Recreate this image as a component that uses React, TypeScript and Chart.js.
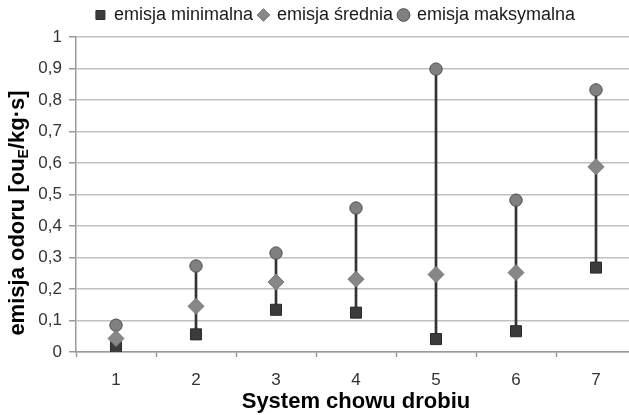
import React, { useEffect, useRef } from "react";
import { Chart, registerables } from "chart.js";

Chart.register(...registerables);

const categories = ["1", "2", "3", "4", "5", "6", "7"];
const minVals = [0.015, 0.056, 0.134, 0.125, 0.041, 0.066, 0.268];
const meanVals = [0.043, 0.145, 0.222, 0.231, 0.246, 0.252, 0.588];
const maxVals = [0.085, 0.273, 0.314, 0.457, 0.898, 0.482, 0.832];
const seriesNames = ["emisja minimalna", "emisja średnia", "emisja maksymalna"];
const xTitle = "System chowu drobiu";
const yTitleParts = ["emisja odoru [ou", "E", "/kg·s]"];

const FONT = "'Liberation Sans', Arial, sans-serif";

const yTitlePlugin = {
  id: "yTitleSub",
  afterDraw(chart: any) {
    const ctx = chart.ctx;
    const mainFont = `bold 22px ${FONT}`;
    const subFont = `bold 14px ${FONT}`;
    ctx.save();
    ctx.font = mainFont;
    const w0 = ctx.measureText(yTitleParts[0]).width;
    const w2 = ctx.measureText(yTitleParts[2]).width;
    ctx.font = subFont;
    const w1 = ctx.measureText(yTitleParts[1]).width;
    const total = w0 + w1 + w2;
    ctx.translate(16, 213);
    ctx.rotate(-Math.PI / 2);
    ctx.fillStyle = "#000";
    ctx.textBaseline = "alphabetic";
    ctx.textAlign = "left";
    let x = -total / 2;
    const base = 8;
    ctx.font = mainFont;
    ctx.fillText(yTitleParts[0], x, base);
    x += w0;
    ctx.font = subFont;
    ctx.fillText(yTitleParts[1], x, base + 4);
    x += w1;
    ctx.font = mainFont;
    ctx.fillText(yTitleParts[2], x, base);
    ctx.restore();
  },
};

export default function App() {
  const ref = useRef<HTMLCanvasElement>(null);
  useEffect(() => {
    const canvas = ref.current;
    if (!canvas) return;
    const chart = new Chart(canvas, {
      type: "bar",
      data: {
        labels: categories,
        datasets: [
          {
            type: "line",
            label: seriesNames[0],
            data: minVals,
            showLine: false,
            pointStyle: "rect",
            pointRadius: 7.8,
            pointBackgroundColor: "#3b3b3b",
            pointBorderColor: "#2b2b2b",
            backgroundColor: "#3b3b3b",
            borderColor: "#2b2b2b",
            pointBorderWidth: 1,
            borderWidth: 1,
            order: 1,
          },
          {
            type: "line",
            label: seriesNames[1],
            data: meanVals,
            showLine: false,
            pointStyle: "rectRot",
            pointRadius: 8,
            pointBackgroundColor: "#878787",
            pointBorderColor: "#7a7a7a",
            backgroundColor: "#878787",
            borderColor: "#7a7a7a",
            pointBorderWidth: 1,
            borderWidth: 1,
            order: 0,
          },
          {
            type: "line",
            label: seriesNames[2],
            data: maxVals,
            showLine: false,
            pointStyle: "circle",
            pointRadius: 6.2,
            pointBackgroundColor: "#808080",
            pointBorderColor: "#4d4d4d",
            backgroundColor: "#808080",
            borderColor: "#4d4d4d",
            pointBorderWidth: 1,
            borderWidth: 1,
            order: 1,
          },
          {
            type: "bar",
            label: "zakres",
            data: categories.map((_, i) => [minVals[i], maxVals[i]]) as any,
            backgroundColor: "#333333",
            borderWidth: 0,
            barThickness: 2,
            order: 5,
          },
        ],
      },
      options: {
        responsive: false,
        animation: false,
        devicePixelRatio: 1,
        layout: { padding: { left: 35, right: 24, top: 0, bottom: 0 } },
        plugins: {
          tooltip: { enabled: false },
          legend: {
            display: true,
            position: "top",
            labels: {
              usePointStyle: true,
              boxWidth: 9,
              boxHeight: 9,
              padding: 6,
              color: "#1a1a1a",
              font: { family: FONT, size: 18 },
              filter: (item: any) => item.datasetIndex < 3,
              sort: (a: any, b: any) => a.datasetIndex - b.datasetIndex,
            },
          },
        },
        scales: {
          xTop: {
            type: "category",
            position: "top",
            display: true,
            grid: { display: false },
            border: { display: false },
            ticks: { display: false },
            afterFit: (s: any) => {
              s.height = 3;
            },
          },
          x: {
            type: "category",
            position: "bottom",
            offset: true,
            grid: {
              display: true,
              drawOnChartArea: false,
              offset: true,
              drawTicks: true,
              tickLength: 5,
              tickColor: "#9a9a9a",
              tickWidth: 1.5,
            },
            border: { display: true, color: "#9a9a9a", width: 1.5 },
            ticks: {
              color: "#333",
              font: { family: FONT, size: 17 },
              padding: 13,
              maxRotation: 0,
            },
            title: {
              display: true,
              text: xTitle,
              color: "#000",
              font: { family: FONT, size: 22, weight: "bold" },
              padding: { top: 0, bottom: 0 },
            },
            afterFit: (s: any) => {
              s.height = 63;
            },
          },
          y: {
            type: "linear",
            min: 0,
            max: 1,
            position: "left",
            grid: {
              color: "#c0c0c0",
              lineWidth: 1.5,
              drawTicks: true,
              tickLength: 7,
              tickColor: "#9a9a9a",
            },
            border: { display: true, color: "#9a9a9a", width: 1.5 },
            ticks: {
              stepSize: 0.1,
              color: "#333",
              padding: 7,
              font: { family: FONT, size: 17 },
              callback: (v: any) => {
                const n = Number(v);
                if (Math.abs(n - Math.round(n)) < 1e-9) return String(Math.round(n));
                return n.toFixed(1).replace(".", ",");
              },
            },
            afterFit: (s: any) => {
              s.width = 41;
            },
          },
        },
      } as any,
      plugins: [yTitlePlugin],
    });
    return () => chart.destroy();
  }, []);

  return (
    <div
      style={{
        position: "fixed",
        left: 0,
        top: 0,
        width: 629,
        height: 415,
        overflow: "hidden",
        background: "#fff",
      }}
    >
      <canvas ref={ref} width={660} height={415} style={{ display: "block", width: 660, height: 415 }} />
    </div>
  );
}
